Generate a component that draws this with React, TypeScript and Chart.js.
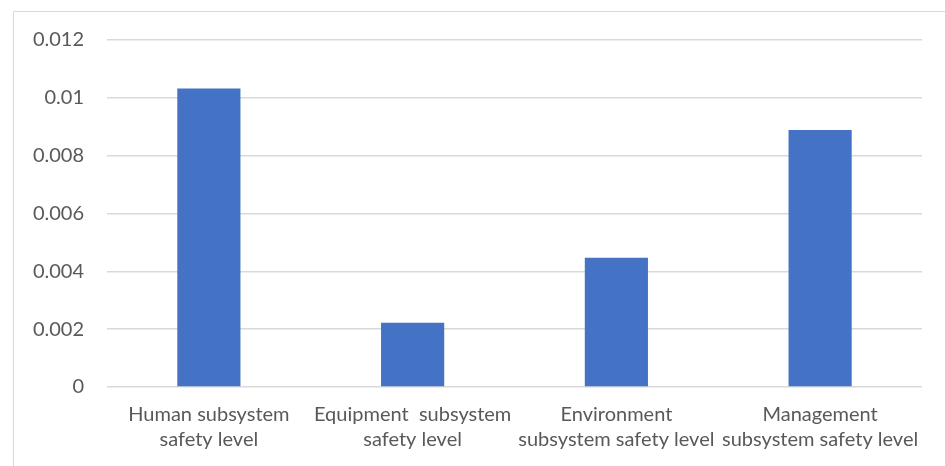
import React, { useEffect, useRef } from "react";
import { Chart, registerables } from "chart.js";

Chart.register(...registerables);

const categories: string[][] = [
  ["Human subsystem", "safety level"],
  ["Equipment  subsystem", "safety level"],
  ["Environment", "subsystem safety level"],
  ["Management", "subsystem safety level"],
];
const values: number[] = [0.01032, 0.00222, 0.00447, 0.00889];
const yMin = 0;
const yMax = 0.012;
const yStep = 0.002;

const FONT = "Lato, 'Noto Sans', sans-serif";
const TEXT = "#595959";

const borderPlugin = {
  id: "outerBorder",
  beforeDraw(chart: any) {
    const ctx = chart.ctx;
    ctx.save();
    ctx.strokeStyle = "#d9d9d9";
    ctx.lineWidth = 1;
    ctx.beginPath();
    ctx.moveTo(13.5, chart.height);
    ctx.lineTo(13.5, 11.5);
    ctx.lineTo(chart.width, 11.5);
    ctx.stroke();
    ctx.restore();
  },
};

export default function App() {
  const ref = useRef<HTMLCanvasElement>(null);
  useEffect(() => {
    if (!ref.current) return;
    const chart = new Chart(ref.current, {
      type: "bar",
      data: {
        labels: categories,
        datasets: [
          {
            data: values,
            backgroundColor: "#4472c4",
            borderWidth: 0,
            barPercentage: 0.31,
            categoryPercentage: 1,
          },
        ],
      },
      options: {
        responsive: false,
        animation: false,
        devicePixelRatio: 1,
        layout: { padding: { top: 40, right: 23, left: 0, bottom: 0 } },
        plugins: { legend: { display: false }, tooltip: { enabled: false } },
        scales: {
          x: {
            grid: { display: false, drawTicks: false },
            border: { display: false },
            ticks: {
              color: TEXT,
              font: { family: FONT, size: 20, lineHeight: 1.25 },
              padding: 15,
              maxRotation: 0,
              autoSkip: false,
            },
            afterFit: (s: any) => {
              s.height = 466 - 387;
            },
          },
          y: {
            min: yMin,
            max: yMax,
            grid: { color: "#d9d9d9", lineWidth: 1.5, drawTicks: false },
            border: { display: false },
            ticks: {
              stepSize: yStep,
              color: TEXT,
              font: { family: FONT, size: 20 },
              padding: 23,
              callback: (v: any) => String(Number(Number(v).toFixed(4))),
            },
            afterFit: (s: any) => {
              s.width = 107;
            },
          },
        },
      },
      plugins: [borderPlugin],
    });
    return () => chart.destroy();
  }, []);
  return (
    <div style={{ position: "fixed", left: 0, top: 0, width: 945, height: 466, background: "#fff" }}>
      <canvas ref={ref} width={945} height={466} style={{ display: "block" }} />
    </div>
  );
}
